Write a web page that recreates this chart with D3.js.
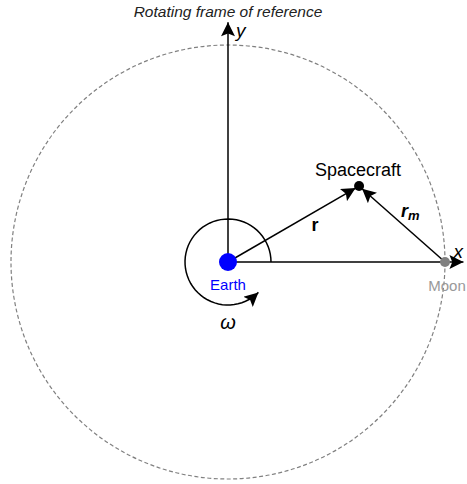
<!DOCTYPE html>
<html>
<head>
<meta charset="utf-8">
<script src="https://cdn.jsdelivr.net/npm/d3@7"></script>
<style>
  body { margin: 0; background: #fff; }
  text { font-family: "Liberation Sans", Arial, sans-serif; }
</style>
</head>
<body>
<script>
const width = 467;
const height = 484;

// positions in units of Earth-Moon distance (rotating frame)
const bodyNames = ['Earth', 'Moon', 'Spacecraft'];
const bodyX = [0, 1, 0.604];
const bodyY = [0, 0, 0.35];
const axisNames = ['x', 'y'];
const axisLength = [1.085, 1.105];
const omegaArcStart = 0;      // degrees
const omegaArcEnd = 315;

const svg = d3.select('body').append('svg')
  .attr('width', width).attr('height', height);

const x = d3.scaleLinear().domain([0, 1]).range([228, 445]);
const y = d3.scaleLinear().domain([0, 1]).range([262, 45]);
const rPix = x(1) - x(0);

const defs = svg.append('defs');
defs.append('marker')
  .attr('id', 'arrowBig')
  .attr('viewBox', '0 0 10 10')
  .attr('refX', 10).attr('refY', 5)
  .attr('markerWidth', 15).attr('markerHeight', 14)
  .attr('markerUnits', 'userSpaceOnUse')
  .attr('orient', 'auto')
  .append('path')
  .attr('d', 'M0,0 L10,5 L0,10 L2,5 Z')
  .attr('fill', '#000');

// title
svg.append('text')
  .attr('x', x(0)).attr('y', 17)
  .attr('text-anchor', 'middle')
  .attr('font-size', 15.5)
  .attr('font-style', 'italic')
  .attr('fill', '#222')
  .text('Rotating frame of reference');

// moon orbit
svg.append('circle')
  .attr('cx', x(0)).attr('cy', y(0)).attr('r', rPix)
  .attr('fill', 'none')
  .attr('stroke', '#808080')
  .attr('stroke-width', 1.2)
  .attr('stroke-dasharray', '4,2.5');

// axes
svg.append('line')
  .attr('x1', x(0)).attr('y1', y(0))
  .attr('x2', x(axisLength[0])).attr('y2', y(0))
  .attr('stroke', '#000').attr('stroke-width', 1.5)
  .attr('marker-end', 'url(#arrowBig)');
svg.append('line')
  .attr('x1', x(0)).attr('y1', y(0))
  .attr('x2', x(0)).attr('y2', y(axisLength[1]))
  .attr('stroke', '#000').attr('stroke-width', 1.5)
  .attr('marker-end', 'url(#arrowBig)');
svg.append('text')
  .attr('x', x(axisLength[0]) - 10).attr('y', y(0) - 4)
  .attr('font-size', 19).attr('font-style', 'italic')
  .text(axisNames[0]);
svg.append('text')
  .attr('x', x(0) + 8).attr('y', y(axisLength[1]) + 15)
  .attr('font-size', 19).attr('font-style', 'italic')
  .text(axisNames[1]);

// omega arc
const arcR = 43;
const a0 = omegaArcStart * Math.PI / 180;
const a1 = omegaArcEnd * Math.PI / 180;
const arcPts = d3.range(0, 61).map(i => {
  const a = a0 + (a1 - a0) * i / 60;
  return [x(0) + arcR * Math.cos(a), y(0) - arcR * Math.sin(a)];
});
svg.append('path')
  .attr('d', d3.line()(arcPts))
  .attr('fill', 'none')
  .attr('stroke', '#000').attr('stroke-width', 1.5)
  .attr('marker-end', 'url(#arrowBig)');
svg.append('text')
  .attr('x', x(0)).attr('y', y(0) + 67)
  .attr('text-anchor', 'middle')
  .attr('font-size', 20).attr('font-style', 'italic')
  .text('ω');

// position vectors
const sc = [x(bodyX[2]), y(bodyY[2])];
function vec(p0, p1) {
  const dx = p1[0] - p0[0], dy = p1[1] - p0[1];
  const len = Math.hypot(dx, dy);
  const s = (len - 4) / len;
  svg.append('line')
    .attr('x1', p0[0]).attr('y1', p0[1])
    .attr('x2', p0[0] + dx * s).attr('y2', p0[1] + dy * s)
    .attr('stroke', '#000').attr('stroke-width', 1.5)
    .attr('marker-end', 'url(#arrowBig)');
}
vec([x(bodyX[0]), y(bodyY[0])], sc);
vec([x(bodyX[1]), y(bodyY[1])], sc);

svg.append('text')
  .attr('x', 315).attr('y', 231)
  .attr('text-anchor', 'middle')
  .attr('font-size', 18).attr('font-weight', 'bold')
  .text('r');
const rm = svg.append('text')
  .attr('x', 401).attr('y', 217)
  .attr('font-size', 18).attr('font-weight', 'bold').attr('font-style', 'italic');
rm.append('tspan').text('r');
rm.append('tspan').attr('font-size', 13).attr('dy', 3).text('m');

// bodies
svg.append('circle')
  .attr('cx', x(bodyX[0])).attr('cy', y(bodyY[0])).attr('r', 9)
  .attr('fill', '#0000ff');
svg.append('text')
  .attr('x', x(bodyX[0])).attr('y', y(bodyY[0]) + 28)
  .attr('text-anchor', 'middle')
  .attr('font-size', 15).attr('fill', '#0000ff')
  .text(bodyNames[0]);

svg.append('circle')
  .attr('cx', x(bodyX[1])).attr('cy', y(bodyY[1])).attr('r', 5)
  .attr('fill', '#808080');
svg.append('text')
  .attr('x', x(bodyX[1]) + 2).attr('y', y(bodyY[1]) + 29)
  .attr('text-anchor', 'middle')
  .attr('font-size', 15).attr('fill', '#999')
  .text(bodyNames[1]);

svg.append('circle')
  .attr('cx', sc[0]).attr('cy', sc[1]).attr('r', 5)
  .attr('fill', '#000');
svg.append('text')
  .attr('x', sc[0] - 1).attr('y', sc[1] - 10)
  .attr('text-anchor', 'middle')
  .attr('font-size', 18).attr('fill', '#000')
  .text(bodyNames[2]);
</script>
</body>
</html>
